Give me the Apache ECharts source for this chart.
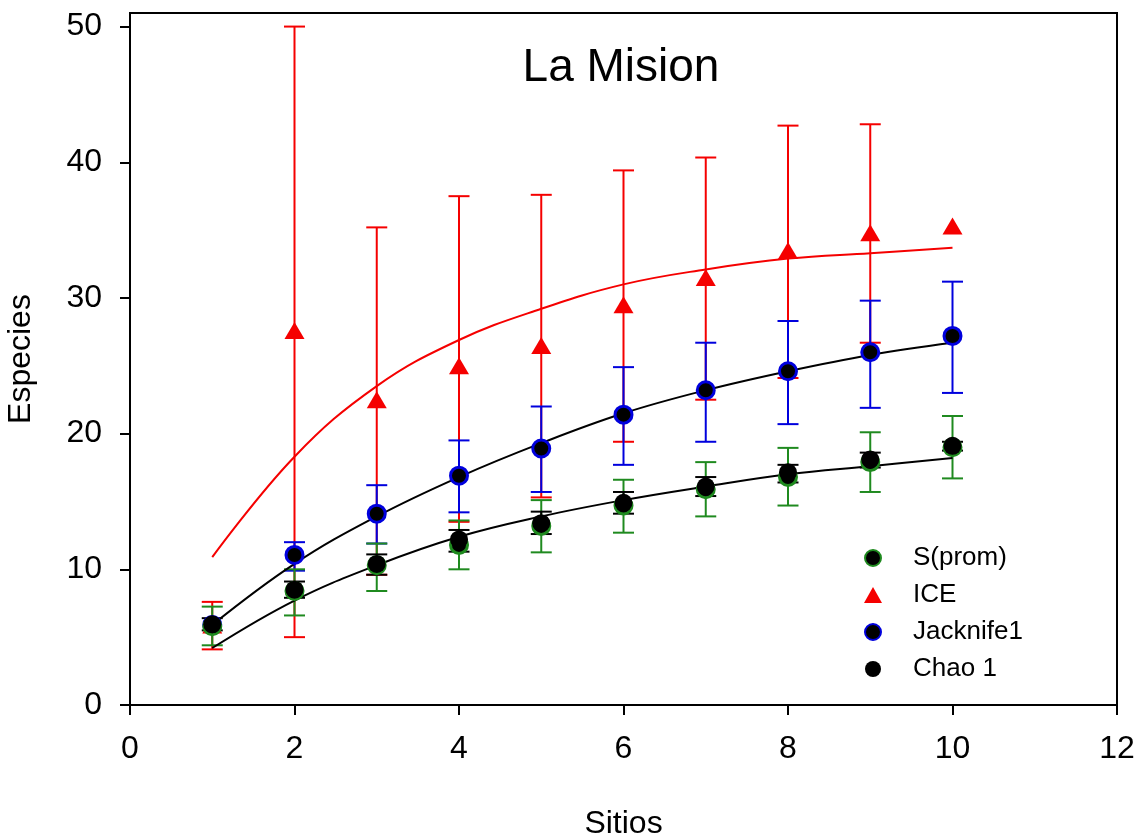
<!DOCTYPE html>
<html>
<head>
<title>La Mision</title>
<meta charset="UTF-8">
<script src="https://cdn.jsdelivr.net/npm/echarts@6/dist/echarts.min.js"></script>
<style>
html, body { margin: 0; padding: 0; background: #fff; }
#chart-container { width: 1143px; height: 837px; }
</style>
</head>
<body>
<div id="chart-container"></div>
<script>
// 数据
var sites = [1, 2, 3, 4, 5, 6, 7, 8, 9, 10];

var sProm = [5.8, 8.4, 10.3, 11.8, 13.2, 14.7, 15.9, 16.8, 17.9, 19.0];
var sPromLow = [4.4, 6.6, 8.4, 10.0, 11.25, 12.7, 13.9, 14.7, 15.7, 16.7];
var sPromHigh = [7.25, 10.0, 11.9, 13.6, 15.1, 16.6, 17.9, 18.95, 20.1, 21.3];

var ice = [5.9, 27.6, 22.5, 25.0, 26.5, 29.5, 31.5, 33.5, 34.8, 35.3];
var iceLow = [4.1, 5.0, 9.6, 13.5, 15.3, 19.4, 22.5, 24.1, 26.7, null];
var iceHigh = [7.6, 50.0, 35.2, 37.5, 37.6, 39.4, 40.35, 42.7, 42.8, null];

var jack = [5.9, 11.06, 14.1, 16.9, 18.9, 21.4, 23.2, 24.6, 26.0, 27.2];
var jackLow = [null, 9.9, 11.9, 14.2, 15.7, 17.7, 19.4, 20.7, 21.9, 23.0];
var jackHigh = [null, 12.0, 16.2, 19.5, 22.0, 24.9, 26.7, 28.3, 29.8, 31.2];

var chao = [5.95, 8.5, 10.4, 12.2, 13.4, 14.9, 16.1, 17.15, 18.1, 19.1];
var chaoLow = [5.5, 7.9, 9.6, 11.3, 12.6, 14.1, 15.4, 16.4, 17.5, 18.75];
var chaoHigh = [6.4, 9.1, 11.1, 12.9, 14.25, 15.7, 16.8, 17.7, 18.6, 19.4];

// 拟合曲线
var iceFit = [10.9, 18.3, 23.5, 26.9, 29.2, 31.0, 32.1, 32.9, 33.3, 33.7];
var jackFit = [5.9, 10.4, 13.9, 16.8, 19.3, 21.5, 23.2, 24.6, 25.8, 26.7];
var chaoFit = [4.2, 7.7, 10.3, 12.4, 13.9, 15.1, 16.1, 17.0, 17.6, 18.2];

var yTicks = [0, 10, 20, 30, 40, 50];

var FONT = '"Liberation Sans", Arial, sans-serif';
var RED = '#f50000';
var BLUE = '#0000dd';
var GREEN = '#1f8a1f';
var BLACK = '#000000';

function pairs(ys) {
  return sites.map(function (x, i) { return [x, ys[i]]; });
}

function errorBars(name, low, high, color, z) {
  var data = [];
  for (var i = 0; i < sites.length; i++) {
    if (low[i] != null) data.push([sites[i], low[i], high[i]]);
  }
  return {
    type: 'custom',
    name: name,
    z: z,
    silent: true,
    data: data,
    encode: { x: 0, y: [1, 2] },
    renderItem: function (params, api) {
      var x = api.value(0);
      var lo = api.coord([x, api.value(1)]);
      var hi = api.coord([x, api.value(2)]);
      var hw = 10.5;
      var st = { stroke: color, lineWidth: 2 };
      return {
        type: 'group',
        children: [
          { type: 'line', shape: { x1: lo[0], y1: lo[1], x2: hi[0], y2: hi[1] }, style: st },
          { type: 'line', shape: { x1: lo[0] - hw, y1: lo[1], x2: lo[0] + hw, y2: lo[1] }, style: st },
          { type: 'line', shape: { x1: hi[0] - hw, y1: hi[1], x2: hi[0] + hw, y2: hi[1] }, style: st }
        ]
      };
    }
  };
}

function fitLine(name, ys, color, z) {
  return {
    type: 'line',
    name: name,
    z: z,
    data: pairs(ys),
    smooth: 0.4,
    symbol: 'none',
    silent: true,
    lineStyle: { color: color, width: 2 }
  };
}

var myChart = echarts.init(document.getElementById('chart-container'));

var option = {
  animation: false,
  backgroundColor: '#fff',
  title: {
    text: 'La Mision',
    left: 616,
    top: 40,
    textAlign: 'center',
    textStyle: { fontSize: 46, fontWeight: 'normal', color: '#000', fontFamily: FONT }
  },
  legend: {
    orient: 'vertical',
    left: 859,
    top: 540,
    itemWidth: 18,
    itemHeight: 16,
    itemGap: 11,
    data: ['S(prom)', 'ICE', 'Jacknife1', 'Chao 1'],
    textStyle: { fontSize: 26, color: '#000', fontFamily: FONT, padding: [0, 0, 0, 26] }
  },
  grid: {
    left: 130,
    right: 26,
    top: 13,
    bottom: 132,
    outerBoundsMode: 'none',
    show: true,
    borderColor: '#000',
    borderWidth: 2,
    backgroundColor: 'transparent'
  },
  xAxis: {
    type: 'value',
    min: 0,
    max: 12,
    interval: 2,
    name: 'Sitios',
    nameLocation: 'middle',
    nameGap: 103,
    nameTextStyle: { fontSize: 32, color: '#000', fontFamily: FONT },
    axisLine: { show: true, onZero: false, lineStyle: { color: '#000', width: 2 } },
    axisTick: { show: true, inside: false, length: 10, lineStyle: { color: '#000', width: 2 } },
    axisLabel: { fontSize: 32, color: '#000', margin: 28, fontFamily: FONT },
    splitLine: { show: false }
  },
  yAxis: {
    type: 'value',
    min: 0,
    max: 51,
    name: 'Especies',
    nameLocation: 'middle',
    nameGap: 93,
    nameTextStyle: { fontSize: 32, color: '#000', fontFamily: FONT },
    axisLine: { show: true, onZero: false, lineStyle: { color: '#000', width: 2 } },
    axisTick: { show: true, inside: false, length: 10, customValues: yTicks, lineStyle: { color: '#000', width: 2 } },
    axisLabel: { fontSize: 32, color: '#000', margin: 28, customValues: yTicks, fontFamily: FONT },
    splitLine: { show: false }
  },
  series: [
    errorBars('ICE err', iceLow, iceHigh, RED, 2),
    errorBars('Jack err', jackLow, jackHigh, BLUE, 3),
    errorBars('S err', sPromLow, sPromHigh, GREEN, 4),
    errorBars('Chao err', chaoLow, chaoHigh, BLACK, 5),
    fitLine('ICE fit', iceFit, RED, 6),
    fitLine('Jack fit', jackFit, BLACK, 6),
    fitLine('Chao fit', chaoFit, BLACK, 6),
    {
      type: 'scatter', name: 'ICE', z: 7,
      data: pairs(ice),
      symbol: 'triangle', symbolSize: [20, 17],
      itemStyle: { color: RED, opacity: 1 }
    },
    {
      type: 'scatter', name: 'Jacknife1', z: 8,
      data: pairs(jack),
      symbol: 'circle', symbolSize: 17,
      itemStyle: { color: BLACK, borderColor: BLUE, borderWidth: 3, opacity: 1 }
    },
    {
      type: 'scatter', name: 'S(prom)', z: 9,
      data: pairs(sProm),
      symbol: 'circle', symbolSize: 17,
      itemStyle: { color: BLACK, borderColor: GREEN, borderWidth: 3, opacity: 1 }
    },
    {
      type: 'scatter', name: 'Chao 1', z: 10,
      data: pairs(chao),
      symbol: 'circle', symbolSize: 18,
      itemStyle: { color: BLACK, opacity: 1 }
    }
  ]
};

myChart.setOption(option);
</script>
</body>
</html>
